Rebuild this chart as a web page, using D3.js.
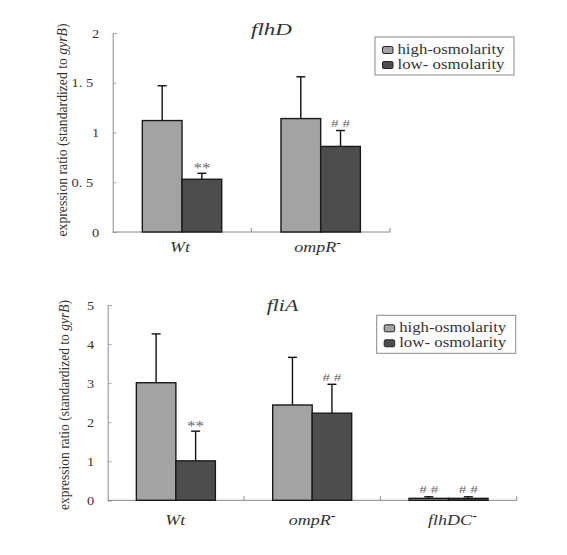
<!DOCTYPE html>
<html><head><meta charset="utf-8">
<script src="https://cdn.jsdelivr.net/npm/d3@7"></script>
<style>body{margin:0;background:#fff}svg{display:block}svg text{font-family:'Liberation Serif','DejaVu Serif','Times New Roman',serif !important}</style>
</head><body>
<script>
// ---- data ----
const seriesNames = ["high-osmolarity", "low- osmolarity"];
const flhDCategories = ["Wt", "ompR"];
const flhDHigh = [1.12, 1.14];
const flhDHighErr = [0.35, 0.42];
const flhDLow = [0.53, 0.86];
const flhDLowErr = [0.06, 0.16];
const flhDMarksHigh = ["", ""];
const flhDMarksLow = ["**", "##"];
const flhDTicks = [0, 0.5, 1, 1.5, 2];
const flhDTickLabels = ["0", "0. 5", "1", "1. 5", "2"];

const fliACategories = ["Wt", "ompR", "flhDC"];
const fliAHigh = [3.01, 2.44, 0.05];
const fliAHighErr = [1.25, 1.22, 0.04];
const fliALow = [1.01, 2.23, 0.05];
const fliALowErr = [0.76, 0.74, 0.04];
const fliAMarksHigh = ["", "", "##"];
const fliAMarksLow = ["**", "##", "##"];
const fliATicks = [0, 1, 2, 3, 4, 5];
const fliATickLabels = ["0", "1", "2", "3", "4", "5"];

const colors = ["#a3a3a3", "#4d4d4d"];
const FONT = "'Liberation Serif','DejaVu Serif',serif";
const STRETCH = 1.2; // horizontal stretch seen in the reference text

const svg = d3.select("body").append("svg").attr("width", 567).attr("height", 555)
  .attr("font-family", FONT);

// helper: set a text's rendered length to natural width * STRETCH
function stretch(sel, factor) {
  sel.each(function () {
    const w = this.getComputedTextLength();
    if (w > 0) d3.select(this).attr("textLength", w * (factor || STRETCH)).attr("lengthAdjust", "spacingAndGlyphs");
  });
  return sel;
}

function panel(o) {
  const g = svg.append("g");
  const x = d3.scaleBand().domain(o.cats).range([o.x0, o.x1]).paddingInner(0).paddingOuter(0);
  const y = d3.scaleLinear().domain([0, o.ymax]).range([o.y0, o.y1]);
  const barW = o.barW;
  // y axis
  const yAxis = d3.axisLeft(y).tickValues(o.ticks).tickSize(-4).tickPadding(13.5)
    .tickFormat((d, i) => o.tickLabels[i]);
  const ya = g.append("g").attr("transform", `translate(${o.x0},0)`).call(yAxis)
    .attr("font-family", FONT);
  ya.select(".domain").attr("stroke", "#888");
  ya.selectAll(".tick line").attr("stroke", "#aaa");
  const tl = ya.selectAll(".tick text").attr("font-size", 12).attr("fill", "#333").attr("dy", "0.35em");
  stretch(tl);
  tl.attr("dx", (d, i) => (o.tickLabels[i].indexOf(".") >= 0 ? -6 : 0));
  // x axis
  const xa = g.append("g").attr("transform", `translate(0,${o.y0})`);
  xa.append("line").attr("x1", o.x0).attr("x2", o.x1).attr("stroke", "#888");
  const bounds = o.cats.map(c => x(c)).concat([o.x1]).slice(1);
  xa.selectAll("line.t").data(bounds).join("line").attr("class", "t")
    .attr("x1", d => d).attr("x2", d => d).attr("y1", 0).attr("y2", -4).attr("stroke", "#888");
  // bars
  const series = [
    { vals: o.high, err: o.highErr, marks: o.marksHigh, off: -barW, c: colors[0] },
    { vals: o.low, err: o.lowErr, marks: o.marksLow, off: 0, c: colors[1] }
  ];
  series.forEach(s => {
    o.cats.forEach((c, i) => {
      const cx = x(c) + x.bandwidth() / 2 + s.off;
      const v = s.vals[i];
      const top = y(v + s.err[i]);
      g.append("line").attr("x1", cx + barW / 2).attr("x2", cx + barW / 2)
        .attr("y1", y(v)).attr("y2", top).attr("stroke", "#111").attr("stroke-width", 1.4);
      g.append("line").attr("x1", cx + barW / 2 - 4.5).attr("x2", cx + barW / 2 + 4.5)
        .attr("y1", top).attr("y2", top).attr("stroke", "#111").attr("stroke-width", 1.4);
      g.append("rect").attr("x", cx).attr("y", y(v)).attr("width", barW)
        .attr("height", y(0) - y(v)).attr("fill", s.c).attr("stroke", "#1a1a1a").attr("stroke-width", 1.4);
      if (s.marks[i]) {
        const isStar = s.marks[i][0] === "*";
        const t = g.append("text").attr("x", cx + barW / 2).attr("y", top - (isStar ? 0 : 3.5))
          .attr("text-anchor", "middle").attr("font-size", isStar ? 14 : 10).attr("fill", "#666")
          .text(isStar ? s.marks[i] : s.marks[i].split("").join(" "));
        t.attr("textLength", isStar ? 17 : 19).attr("lengthAdjust", "spacingAndGlyphs");
      }
    });
  });
  // category labels
  o.cats.forEach((c, i) => {
    const t = g.append("text").attr("x", x(c) + x.bandwidth() / 2 + o.catDx[i]).attr("y", o.y0 + o.catDy)
      .attr("text-anchor", "middle").attr("font-size", 15).attr("font-style", "italic")
      .attr("fill", "#333");
    t.append("tspan").text(c);
    if (c !== "Wt") t.append("tspan").attr("dy", -5).attr("font-size", 12).attr("font-style", "normal")
      .attr("font-weight", "bold").text("-");
    stretch(t);
  });
  // title
  const tt = g.append("text").attr("x", o.titleX).attr("y", o.titleY).attr("text-anchor", "middle")
    .attr("font-size", 17).attr("font-style", "italic").attr("fill", "#333").text(o.title);
  tt.attr("textLength", o.titleLen).attr("lengthAdjust", "spacingAndGlyphs");
  // y label
  const yl = g.append("text").attr("transform", `translate(${o.ylx},${o.yly}) rotate(-90)`)
    .attr("text-anchor", "middle").attr("font-size", 14.5).attr("fill", "#333");
  yl.append("tspan").text("expression ratio (standardized to ");
  yl.append("tspan").attr("font-style", "italic").text("gyrB");
  yl.append("tspan").text(")");
  yl.attr("textLength", o.ylLen).attr("lengthAdjust", "spacingAndGlyphs");
  // legend
  const lg = g.append("g").attr("transform", `translate(${o.lx},${o.ly})`);
  lg.append("rect").attr("width", 139).attr("height", 38).attr("fill", "#fff").attr("stroke", "#888");
  seriesNames.forEach((n, i) => {
    lg.append("rect").attr("x", 7.5).attr("y", 9.5 + i * 15).attr("width", 10.5).attr("height", 7)
      .attr("fill", colors[i]).attr("stroke", "#222").attr("rx", 1.5);
    lg.append("text").attr("x", 22.5).attr("y", 16.5 + i * 15).attr("font-size", 14)
      .attr("fill", "#333").text(n)
      .attr("textLength", 107).attr("lengthAdjust", "spacingAndGlyphs");
  });
}

panel({ cats: flhDCategories, x0: 112.7, x1: 390, y0: 232, y1: 33, ymax: 2,
  high: flhDHigh, highErr: flhDHighErr, low: flhDLow, lowErr: flhDLowErr,
  marksHigh: flhDMarksHigh, marksLow: flhDMarksLow, ticks: flhDTicks, tickLabels: flhDTickLabels,
  barW: 39.7, catDx: [-2, -3], catDy: 20,
  title: "flhD", titleX: 271.5, titleY: 35, titleLen: 41,
  ylx: 67, yly: 130, ylLen: 213, lx: 375, ly: 37 });

panel({ cats: fliACategories, x0: 107.7, x1: 516.7, y0: 500.3, y1: 305, ymax: 5,
  high: fliAHigh, highErr: fliAHighErr, low: fliALow, lowErr: fliALowErr,
  marksHigh: fliAMarksHigh, marksLow: fliAMarksLow, ticks: fliATicks, tickLabels: fliATickLabels,
  barW: 39.5, catDx: [-0.5, 0, 4], catDy: 25,
  title: "fliA", titleX: 282.5, titleY: 311, titleLen: 31.5,
  ylx: 69, yly: 405, ylLen: 210, lx: 376.7, ly: 315.3 });
</script>
</body></html>
